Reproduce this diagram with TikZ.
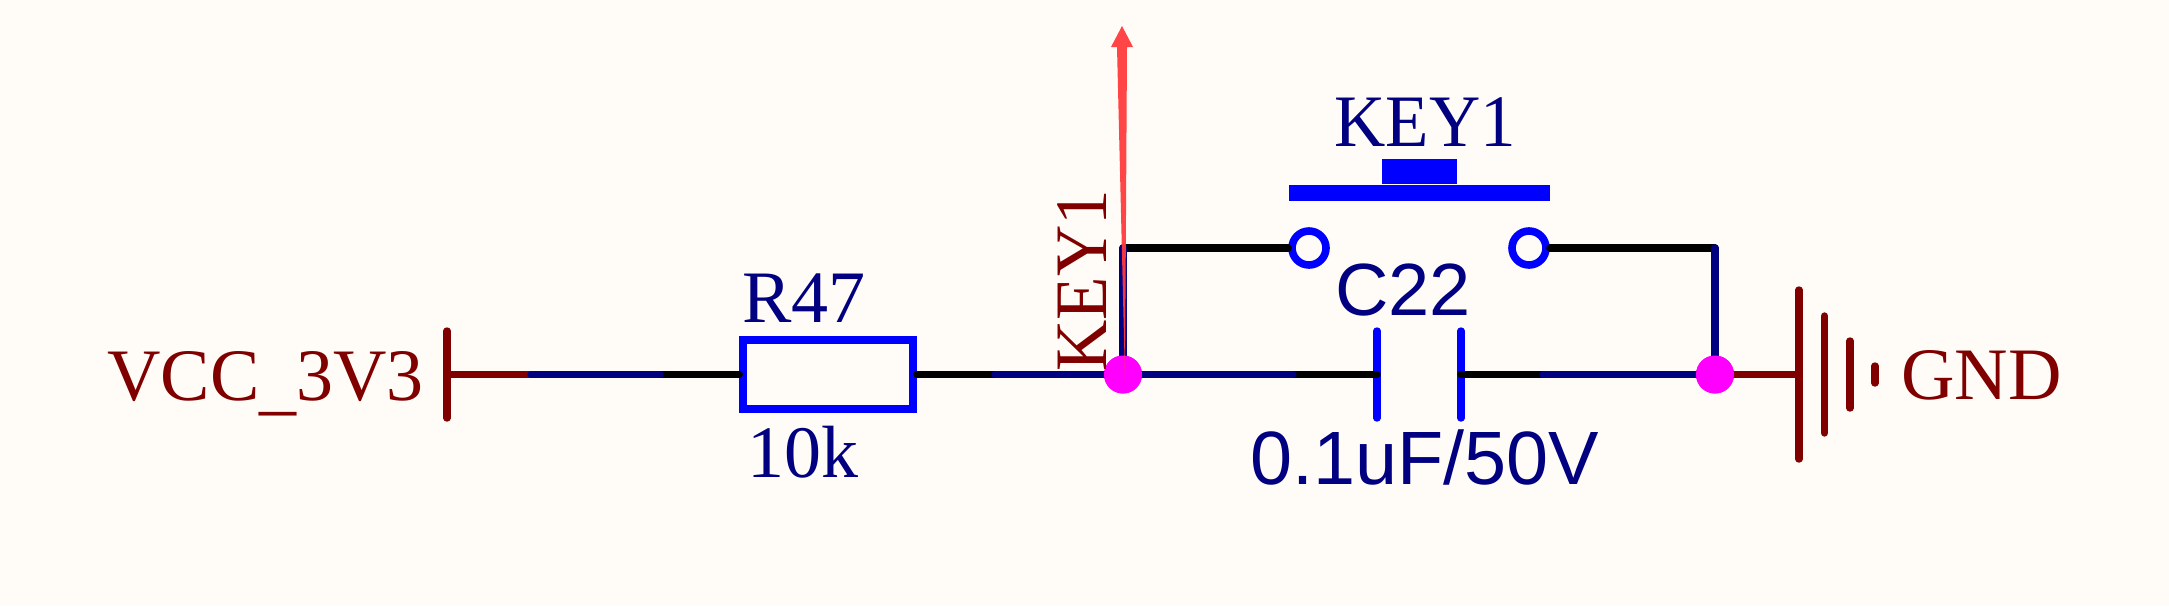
\documentclass[tikz,border=0pt]{standalone}
\usepackage{fontspec}
\setmainfont{Liberation Serif}
\newfontfamily\arialfont{Liberation Sans}
\usetikzlibrary{positioning, calc}

\definecolor{paper}{HTML}{FFFCF8}
\definecolor{netblue}{HTML}{000080}
\definecolor{pwrred}{HTML}{800000}
\definecolor{partblue}{HTML}{0000FF}
\definecolor{jointpink}{HTML}{FF00FF}
\definecolor{probered}{HTML}{FF3C3C}

\tikzset{
    wire/.style={line width=3.7pt, line cap=round},
    partline/.style={wire, partblue},
    pwrline/.style={wire, pwrred},
    netline/.style={wire, netblue},
    blackline/.style={wire, black},
    joint/.style={circle, fill=jointpink, inner sep=0pt, minimum size=19pt},
    pad/.style={circle, draw=partblue, line width=3.8pt, inner sep=0pt, minimum size=17pt},
    partname/.style={text=netblue, font=\fontsize{37}{37}\selectfont, inner sep=0pt, anchor=base west},
    pwrname/.style={text=pwrred, font=\fontsize{37}{37}\selectfont, inner sep=0pt, anchor=base west},
    pin/.style={inner sep=0pt, minimum size=0pt}
}

\begin{document}
\begin{tikzpicture}[x=0.5pt, y=-0.5pt]
    \useasboundingbox[fill=paper] (0,0) rectangle (2169,606);

    % supply and ground symbols
    \node[pin] (vcc) at (447,374.5) {};
    \node[pin] (vcc top) at (447,331) {};
    \node[pin] (vcc bot) at (447,418) {};
    \node[pin] (gnd) at (1799,374.5) {};
    \node[joint] (left joint) at (1123,374.5) {};
    \node[joint] (right joint) at (1715,374.5) {};

    % resistor
    \node[draw=partblue, line width=3.8pt, minimum width=85pt, minimum height=34.5pt, inner sep=0pt] (r47) at (828,374.5) {};

    % capacitor
    \node[pin] (cap a) at (1377,374.5) {};
    \node[pin] (cap b) at (1461,374.5) {};
    \node[pin] (cap a top) at (1377,331) {};
    \node[pin] (cap a bot) at (1377,418) {};
    \node[pin] (cap b top) at (1461,331) {};
    \node[pin] (cap b bot) at (1461,418) {};

    % push button
    \node[pad] (pad a) at (1309,248) {};
    \node[pad] (pad b) at (1529,248) {};
    \node[fill=partblue, minimum width=130.5pt, minimum height=8pt, inner sep=0pt] (key bar) at (1419,193) {};
    \node[fill=partblue, minimum width=37.5pt, minimum height=12.5pt, inner sep=0pt, above=0pt of key bar] (key cap) {};
    \node[pin] (top left) at (1123,248) {};
    \node[pin] (top right) at (1715,248) {};

    % wires
    \draw[partline] (cap a top.center) -- (cap a bot.center);
    \draw[partline] (cap b top.center) -- (cap b bot.center);
    \draw[pwrline] (vcc top.center) -- (vcc bot.center);
    \draw[pwrline] (vcc.center) -- (531,374.5) coordinate (vcc end);
    \draw[blackline] (660,374.5) coordinate (a1) -- (r47.west);
    \draw[netline] (vcc end) -- (a1);
    \draw[blackline] (r47.east) -- (995,374.5) coordinate (a2);
    \draw[netline] (a2) -- (left joint.center);
    \draw[blackline] (1293,374.5) coordinate (a3) -- (cap a.center);
    \draw[netline] (left joint.center) -- (a3);
    \draw[blackline] (cap b.center) -- (1543,374.5) coordinate (a4);
    \draw[netline] (a4) -- (right joint.center);
    \draw[blackline] (top left.center) -- (pad a.west);
    \draw[blackline] (pad b.east) -- (top right.center);
    \draw[netline] (top left.center) -- (left joint.center);
    \draw[netline] (top right.center) -- (right joint.center);
    \draw[pwrline] (right joint.center) -- (gnd.center);

    % ground bars
    \draw[pwrline] (1799,290) -- (1799,459);
    \draw[pwrline] (1824.5,316) -- (1824.5,433);
    \draw[pwrline] (1850,341) -- (1850,408);
    \draw[pwrline] (1875,366) -- (1875,383);

    \node[joint] at (left joint) {};
    \node[joint] at (right joint) {};

    % labels
    \node[pwrname] (vcc text) at (107,400) {VCC\raisebox{-3pt}{\_}3V3};
    \node[pwrname] (gnd text) at (1901,399.5) {GND};
    \node[pwrname, rotate=90] (net text) at (1106,372) {\scalebox{0.96}[1]{KEY1}};
    \node[partname] (r47 text) at (742,322) {R47};
    \node[partname] (r47 val) at (747,477) {10k};
    \node[partname] (key text) at (1334,146) {\scalebox{0.96}[1]{KEY1}};
    \node[partname, font=\arialfont\fontsize{37}{37}\selectfont] (c22 text) at (1335,315) {C22};
    \node[partname, font=\arialfont\fontsize{37.8}{37.8}\selectfont] (c22 val) at (1250,484) {0.1uF/50V};

    % probe arrow
    \fill[probered, opacity=.95] (1125,380) -- (1117,47) -- (1111,47) -- (1122,26) -- (1133,47) -- (1127,47) -- cycle;
\end{tikzpicture}
\end{document}
